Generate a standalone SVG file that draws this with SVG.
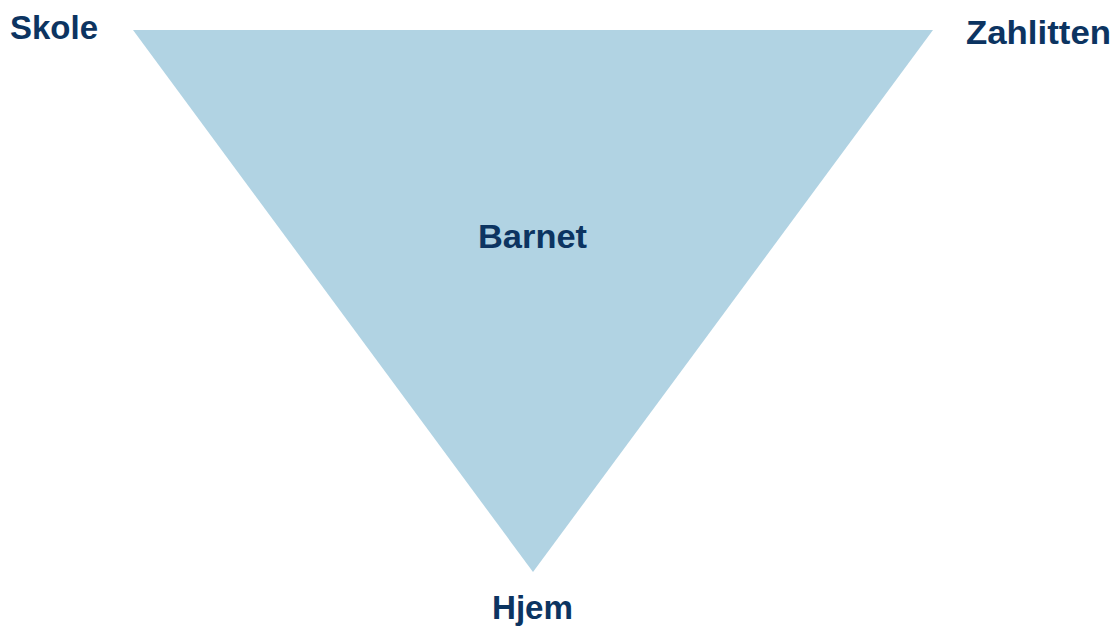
<svg xmlns="http://www.w3.org/2000/svg" width="1115" height="627" viewBox="0 0 1115 627">
<style>
.lbl{font-family:"Liberation Sans","Open Sans",Arial,sans-serif;font-weight:bold;font-size:34px;fill:#0c3461;}
</style>
<rect width="1115" height="627" fill="#ffffff"/>
<g id="triangle">
<polygon points="133,30 933,30 533,572" fill="#b1d3e3"/>
</g>
<g id="connectors"></g>
<g id="skole"><text class="lbl" x="10" y="39" textLength="88" lengthAdjust="spacingAndGlyphs">Skole</text></g>
<g id="zahlitten"><text class="lbl" x="966" y="44" textLength="145" lengthAdjust="spacingAndGlyphs">Zahlitten</text></g>
<g id="barnet"><text class="lbl" x="478" y="248" textLength="109" lengthAdjust="spacingAndGlyphs">Barnet</text></g>
<g id="hjem"><text class="lbl" x="492" y="619" textLength="81" lengthAdjust="spacingAndGlyphs">Hjem</text></g>
</svg>
